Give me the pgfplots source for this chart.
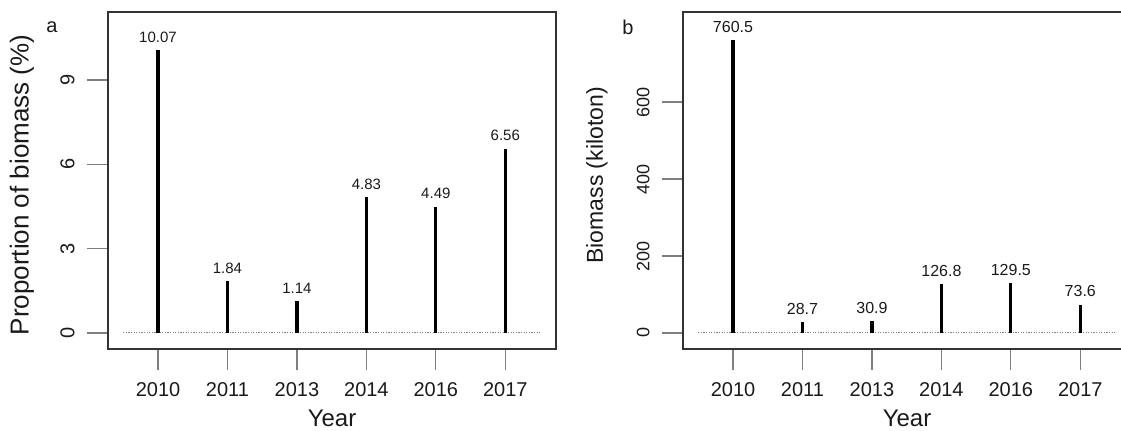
\documentclass[border=0pt]{standalone}
\usepackage{fontspec}
\setmainfont{Liberation Sans}
\usepackage{pgfplots}
\pgfplotsset{compat=1.18}
\definecolor{boxc}{HTML}{333333}
\definecolor{tickc}{HTML}{7F7F7F}
\definecolor{txt}{HTML}{1A1A1A}

\pgfplotsset{
  rplot/.style={
    scale only axis, width=224pt, height=168.5pt,
    anchor=south west,
    xmin=0.28, xmax=6.73,
    axis line style={boxc, line width=0.75pt},
    tick align=outside,
    tick pos=left,
    major tick length=10.5pt,
    major tick style={tickc, line width=0.6pt},
    xtick={1,2,3,4,5,6},
    xticklabels={2010,2011,2013,2014,2016,2017},
    /pgf/number format/assume math mode=true,
    clip=false,
    xticklabel style={font=\fontsize{10}{12}\selectfont, text=txt, inner sep=0pt, anchor=north},
    xticklabel shift=6pt,
    yticklabel style={rotate=90, anchor=south, inner sep=0pt, text=txt},
    yticklabel shift=6pt,
    every axis x label/.style={at={(axis description cs:0.5,-0.206)}, anchor=center, font=\fontsize{12}{14}\selectfont, text=txt},
    xlabel={Year},
    nodes near coords style={anchor=south, inner sep=0pt, yshift=3pt, text=txt},
  }
}

\begin{document}
\begin{tikzpicture}
\useasboundingbox (0,0) rectangle (560.5pt,215pt);
\clip (0,0) rectangle (560.5pt,215pt);

\begin{axis}[rplot, at={(54pt,40.5pt)},
  ymin=-0.57, ymax=11.42,
  ytick={0,3,6,9},
  yticklabel style={font=\fontsize{10}{12}\selectfont},
  every axis y label/.style={at={(axis description cs:-0.192,0.487)}, rotate=90, anchor=center, font=\fontsize{13}{15}\selectfont, text=txt},
  ylabel={Proportion of biomass (\%)},
  nodes near coords style={font=\fontsize{7.5}{9}\selectfont},
]
\addplot[tickc, line width=0.5pt, dash pattern=on 0.6pt off 0.7pt, forget plot] coordinates {(0.5,0) (6.5,0)};
\addplot[ycomb, black, line width=1.65pt, mark=none,
  nodes near coords, point meta=explicit symbolic]
  table[meta=label] {
x y label
1 10.07 10.07
2 1.84 1.84
3 1.14 1.14
4 4.83 4.83
5 4.49 4.49
6 6.56 6.56
};
\node[font=\fontsize{10}{12}\selectfont, text=txt] at (rel axis cs:-0.125,0.955) {a};
\end{axis}

\begin{axis}[rplot, at={(341.5pt,40.5pt)},
  ymin=-41.6, ymax=834,
  ytick={0,200,400,600},
  yticklabel style={font=\fontsize{9}{11}\selectfont},
  every axis y label/.style={at={(axis description cs:-0.192,0.515)}, rotate=90, anchor=center, font=\fontsize{11.5}{14}\selectfont, text=txt},
  ylabel={Biomass (kiloton)},
  nodes near coords style={font=\fontsize{8}{10}\selectfont},
]
\addplot[tickc, line width=0.5pt, dash pattern=on 0.6pt off 0.7pt, forget plot] coordinates {(0.5,0) (6.5,0)};
\addplot[ycomb, black, line width=1.65pt, mark=none,
  nodes near coords, point meta=explicit symbolic]
  table[meta=label] {
x y label
1 760.5 760.5
2 28.7 28.7
3 30.9 30.9
4 126.8 126.8
5 129.5 129.5
6 73.6 73.6
};
\node[font=\fontsize{10}{12}\selectfont, text=txt] at (rel axis cs:-0.123,0.955) {b};
\end{axis}
\end{tikzpicture}
\end{document}
